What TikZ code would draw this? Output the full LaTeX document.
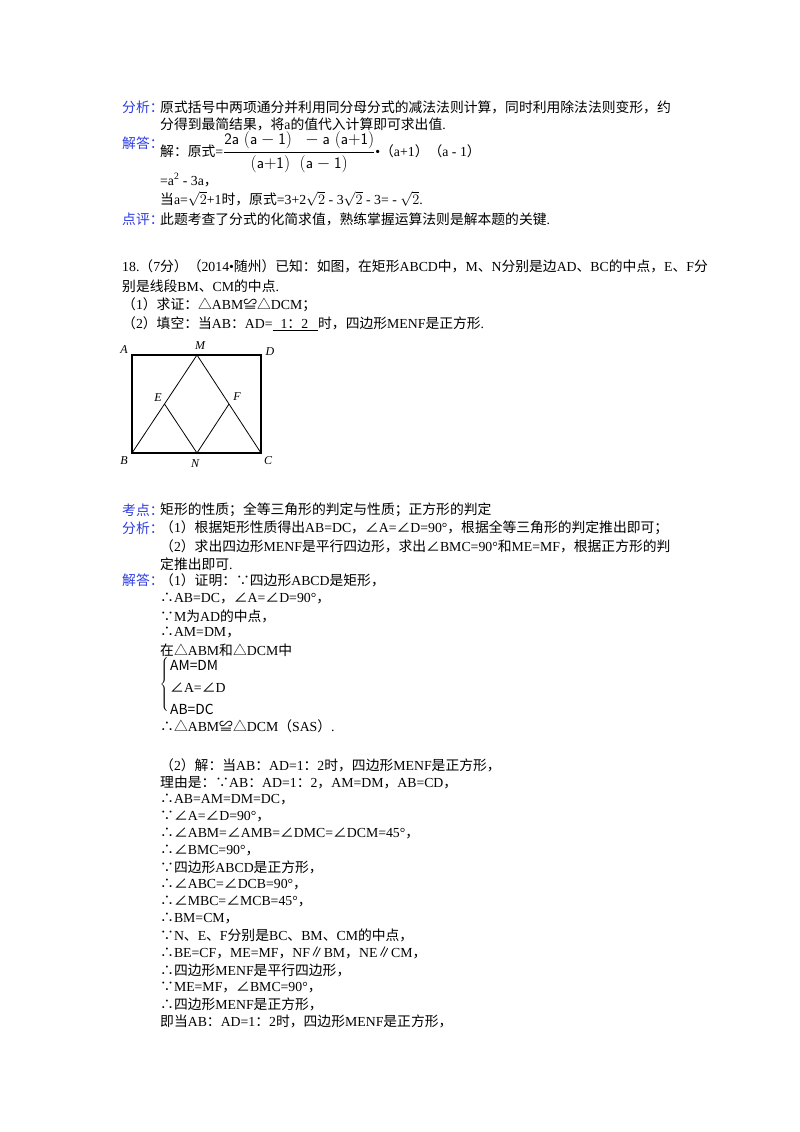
\documentclass[tikz,border=0pt]{standalone}
\usetikzlibrary{calc}
\usepackage{fontspec}
\setmainfont{Liberation Serif}
\newfontfamily\cjk{Noto Sans CJK SC}
\newfontfamily\latf{Liberation Serif}
\XeTeXinterchartokenstate=1
\newXeTeXintercharclass\cjkclass
\newcount\cc
\def\setrange#1#2{\cc=#1 \loop\XeTeXcharclass\cc=\cjkclass \advance\cc by 1 \ifnum\cc<#2 \repeat}
\setrange{"4E00}{"A000}
\setrange{"3000}{"3040}
\setrange{"FF00}{"FFF0}
\setrange{"2200}{"2300}
\setrange{"25A0}{"2600}
\XeTeXinterchartoks 0 \cjkclass = {\cjk}
\XeTeXinterchartoks 255 \cjkclass = {\cjk}
\XeTeXinterchartoks \cjkclass 0 = {\latf}
\XeTeXinterchartoks \cjkclass 255 = {\latf}
\definecolor{lab}{RGB}{45,60,225}
\begin{document}
\begin{tikzpicture}[x=1pt,y=-1pt,
  t/.style={anchor=west,inner sep=0pt,font=\fontsize{13.8}{16}\selectfont\cjk},
  lb/.style={t,text=lab},
  pt/.style={inner sep=1pt,font=\fontsize{12}{14}\selectfont\itshape}]
\useasboundingbox (0,0) rectangle (800,1132);
\node[lb] (l1) at (122,107) {分析：};
\node[t] (a1) at (160,107) {原式括号中两项通分并利用同分母分式的减法法则计算，同时利用除法法则变形，约};
\node[t] (a2) at (160,124) {分得到最简结果，将a的值代入计算即可求出值.};
\node[lb] (l2) at (122,143) {解答：};
\node[t] (a3) at (160,152) {解：原式=\latf{\fontsize{16}{18}\selectfont$\displaystyle\frac{\mathsf{2a\;(a-1)\;\;-a\;(a{+}1)}}{\mathsf{(a{+}1)\;\;(a-1)}}$}•\cjk（a+1）（a - 1）};
\node[t] (a4) at (160,180) {\latf =a\textsuperscript{2} - 3a，};
\node[t] (a5) at (160,199) {当a=$\sqrt{2}$+1时，原式=3+2$\sqrt{2}$ - 3$\sqrt{2}$ - 3= - $\sqrt{2}$.};
\node[lb] (l3) at (122,219) {点评：};
\node[t] (a6) at (160,219) {此题考查了分式的化简求值，熟练掌握运算法则是解本题的关键.};
\node[t] (q1) at (122,266) {\latf 18.（7分）（2014•随州）已知：如图，在矩形ABCD中，M、N分别是边AD、BC的中点，E、F分};
\node[t] (q2) at (122,286) {别是线段BM、CM的中点.};
\node[t] (q3) at (122,305) {（1）求证：△ABM≌△DCM；};
\node[t] (q4) at (122,324) {（2）填空：当AB：AD=\underline{\hspace{8pt}1：2\hspace{10pt}}\cjk 时，四边形MENF是正方形.};
% figure
\coordinate (A) at (132,355); \coordinate (D) at (261,355);
\coordinate (B) at (132,453); \coordinate (C) at (261,453);
\coordinate (M) at (197,355); \coordinate (N) at (197,453);
\coordinate (E) at ($(B)!0.5!(M)$); \coordinate (F) at ($(C)!0.5!(M)$);
\draw[line width=1.1pt] (A) rectangle (C);
\draw[line width=0.8pt] (B) -- (M) -- (C) (E) -- (N) -- (F);
\node[pt] at (124,350) {A}; \node[pt] at (200,346) {M}; \node[pt] at (270,352) {D};
\node[pt] at (158,398) {E}; \node[pt] at (237,397) {F};
\node[pt] at (124,461) {B}; \node[pt] at (268,461) {C}; \node[pt] at (195,464) {N};
% solution
\node[lb] (l4) at (122,510) {考点：};
\node[t] at (160,510) {矩形的性质；全等三角形的判定与性质；正方形的判定};
\node[lb] (l5) at (122,528) {分析：};
\node[t] at (160,528) {（1）根据矩形性质得出AB=DC，∠A=∠D=90°，根据全等三角形的判定推出即可；};
\node[t] at (160,546) {（2）求出四边形MENF是平行四边形，求出∠BMC=90°和ME=MF，根据正方形的判};
\node[t] at (160,564) {定推出即可.};
\node[lb] (l6) at (122,580) {解答：};
\node[t] at (160,580) {（1）证明：∵四边形ABCD是矩形，};
\node[t] at (160,598) {∴AB=DC，∠A=∠D=90°，};
\node[t] at (160,616) {∵M为AD的中点，};
\node[t] at (160,633) {∴AM=DM，};
\node[t] at (160,650) {在△ABM和△DCM中};
\node[inner sep=0pt] at (165,686) {$\left\{\vrule height 27pt depth 27pt width 0pt\right.$};
\node[t] at (170,665) {\cjk AM=DM};
\node[t] at (170,688) {\cjk ∠A=∠D};
\node[t] at (170,709) {\cjk AB=DC};
\node[t] at (160,726) {∴△ABM≌△DCM（SAS）.};
\node[t] at (160,765) {（2）解：当AB：AD=1：2时，四边形MENF是正方形，};
\foreach \s [count=\i from 0] in {
 {理由是：∵AB：AD=1：2，AM=DM，AB=CD，},
 {∴AB=AM=DM=DC，},
 {∵∠A=∠D=90°，},
 {∴∠ABM=∠AMB=∠DMC=∠DCM=45°，},
 {∴∠BMC=90°，},
 {∵四边形ABCD是正方形，},
 {∴∠ABC=∠DCB=90°，},
 {∴∠MBC=∠MCB=45°，},
 {∴BM=CM，},
 {∵N、E、F分别是BC、BM、CM的中点，},
 {∴BE=CF，ME=MF，NF∥BM，NE∥CM，},
 {∴四边形MENF是平行四边形，},
 {∵ME=MF，∠BMC=90°，},
 {∴四边形MENF是正方形，},
 {即当AB：AD=1：2时，四边形MENF是正方形，}}
 \node[t] at (160,{782+\i*17.1}) {\s};
\end{tikzpicture}
\end{document}
